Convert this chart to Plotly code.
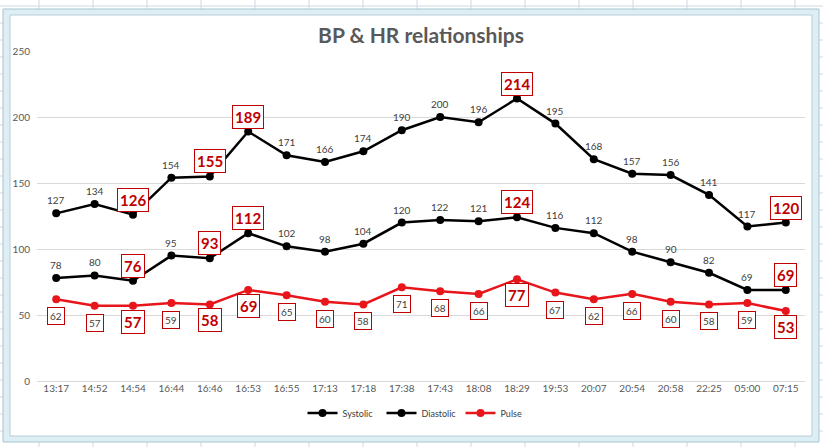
import plotly.graph_objects as go

times = ["13:17", "14:52", "14:54", "16:44", "16:46", "16:53", "16:55", "17:13", "17:18", "17:38",
         "17:43", "18:08", "18:29", "19:53", "20:07", "20:54", "20:58", "22:25", "05:00", "07:15"]
systolic = [127, 134, 126, 154, 155, 189, 171, 166, 174, 190, 200, 196, 214, 195, 168, 157, 156, 141, 117, 120]
diastolic = [78, 80, 76, 95, 93, 112, 102, 98, 104, 120, 122, 121, 124, 116, 112, 98, 90, 82, 69, 69]
pulse = [62, 57, 57, 59, 58, 69, 65, 60, 58, 71, 68, 66, 77, 67, 62, 66, 60, 58, 59, 53]
highlight = [2, 4, 5, 12, 19]  # indices whose labels are emphasised
y_ticks = [0, 50, 100, 150, 200, 250]

W, H = 823, 447
L, R, T, B = 37, 18, 51, 66
pw, ph = W - L - R, H - T - B

def px(x):
    return (x - L) / pw

def py(y):
    return (H - B - y) / ph

FONT = "Lato"
DARK = "#404040"
RED_TXT = "#C00000"

fig = go.Figure()
series = [("Systolic", systolic, "#000000", "#000000"),
          ("Diastolic", diastolic, "#000000", "#000000"),
          ("Pulse", pulse, "#E8151B", "#E8151B")]
for name, vals, lc, mc in series:
    fig.add_trace(go.Scatter(x=times, y=vals, name=name, mode="lines+markers",
                             line=dict(color=lc, width=2.5),
                             marker=dict(color=mc, size=8, symbol="circle")))

annotations = []
for name, vals, _, _ in series:
    for i, (t, v) in enumerate(zip(times, vals)):
        big = i in highlight
        if name == "Pulse":
            shift = -16 if big else -17
            annotations.append(dict(
                x=t, y=v, text=str(v), showarrow=False, xanchor="center", yanchor="middle",
                yshift=shift,
                font=dict(family=FONT, size=15 if big else 10, color=RED_TXT if big else DARK,
                          weight="bold" if big else "normal"),
                bordercolor=RED_TXT, borderwidth=1, borderpad=2,
                bgcolor="white"))
        else:
            if big:
                annotations.append(dict(
                    x=t, y=v, text=str(v), showarrow=False, xanchor="center", yanchor="middle",
                    yshift=15,
                    font=dict(family=FONT, size=15, color=RED_TXT, weight="bold"),
                    bordercolor=RED_TXT, borderwidth=1, borderpad=2, bgcolor="white"))
            else:
                annotations.append(dict(
                    x=t, y=v, text=str(v), showarrow=False, xanchor="center", yanchor="middle",
                    yshift=13, font=dict(family=FONT, size=10, color=DARK)))

# spreadsheet background grid + chart frame (decoration)
shapes = []
for k in range(16):
    xx = 39 + 54 * k
    shapes.append(dict(type="line", xref="paper", yref="paper", x0=px(xx), x1=px(xx),
                       y0=py(0), y1=py(H), line=dict(color="#D0D7E5", width=1), layer="below"))
for k in range(27):
    yy = 6 + 17 * k
    shapes.append(dict(type="line", xref="paper", yref="paper", x0=px(0), x1=px(W),
                       y0=py(yy), y1=py(yy), line=dict(color="#D0D7E5", width=1), layer="below"))
shapes.append(dict(type="rect", xref="paper", yref="paper", x0=px(3), x1=px(819), y0=py(9), y1=py(442),
                   fillcolor="#DDEFF4", line=dict(color="#A9C4D0", width=1), layer="below"))
shapes.append(dict(type="rect", xref="paper", yref="paper", x0=px(10), x1=px(812), y0=py(15), y1=py(436),
                   fillcolor="white", line=dict(color="#B8CCD6", width=1), layer="below"))

fig.update_layout(
    width=W, height=H,
    margin=dict(l=L, r=R, t=T, b=B, autoexpand=False),
    paper_bgcolor="white", plot_bgcolor="rgba(0,0,0,0)",
    title=dict(text="<b>BP & HR relationships</b>", x=0.5, xref="paper", y=1 - 36 / H, yref="container",
               yanchor="middle", xanchor="center",
               font=dict(family=FONT, size=21, color="#595959")),
    showlegend=True,
    legend=dict(orientation="h", x=0.5, xanchor="center", y=py(413), yanchor="middle",
                font=dict(family=FONT, size=9, color="#404040"),
                itemwidth=30, entrywidth=34, entrywidthmode="pixels",
                bgcolor="rgba(0,0,0,0)"),
    xaxis=dict(type="category", range=[-0.5, len(times) - 0.5], showgrid=False, zeroline=False,
               showline=False, ticks="", tickfont=dict(family=FONT, size=10, color="#595959")),
    yaxis=dict(range=[0, 250], tickvals=y_ticks, showgrid=True, gridcolor="#D9D9D9", gridwidth=1,
               zeroline=True, zerolinecolor="#D9D9D9", zerolinewidth=1, showline=False, ticks="",
               ticklabelstandoff=6, tickfont=dict(family=FONT, size=10, color="#595959")),
    annotations=annotations,
    shapes=shapes,
)

fig.write_html("out.html", config={"displayModeBar": False},
               post_script="document.body.style.margin='0';")
